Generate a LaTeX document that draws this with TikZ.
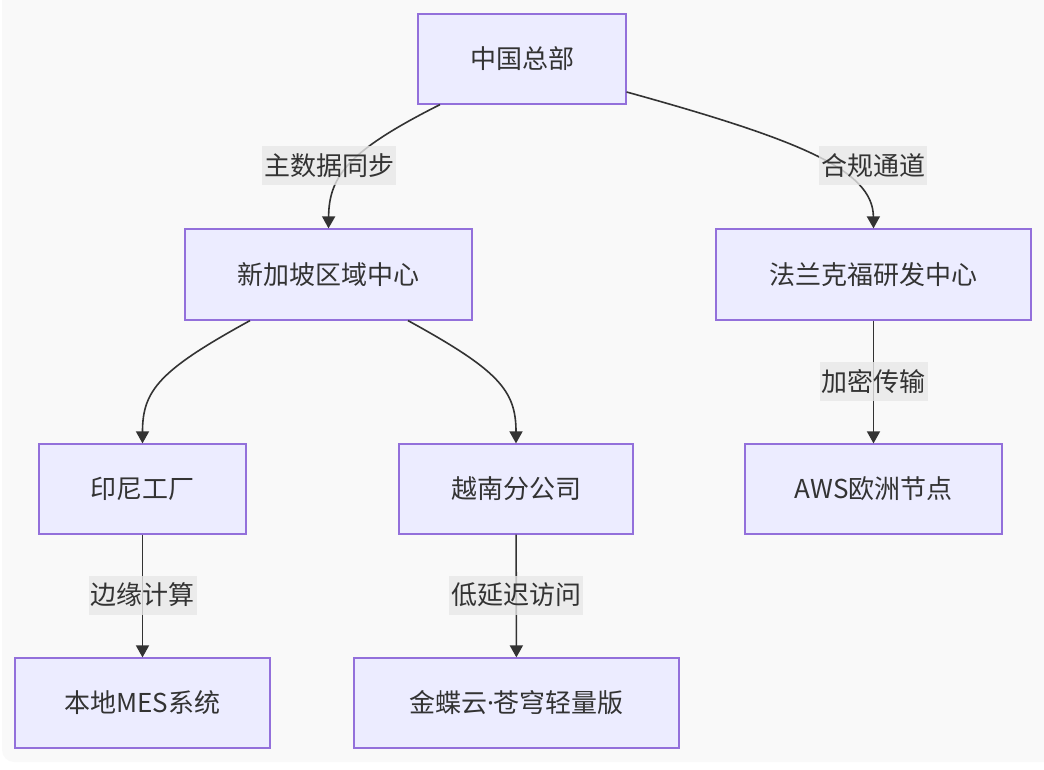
\documentclass[tikz,border=0pt]{standalone}
\usepackage{fontspec}
\setmainfont{Noto Sans CJK SC}
\newfontfamily\latinfont{Noto Sans}
\usepackage{tikz}
\usetikzlibrary{arrows.meta, calc, positioning}
\usepackage{xcolor}
\definecolor{bggray}{HTML}{F9F9F9}
\definecolor{nodefill}{HTML}{ECECFF}
\definecolor{nodeline}{HTML}{9370DB}
\definecolor{linkgray}{HTML}{333333}
\definecolor{lblgray}{HTML}{E8E8E8}

\begin{document}
\begin{tikzpicture}[x=1pt, y=-1pt,
  box/.style={draw=nodeline, fill=nodefill, line width=1.2pt, inner sep=0pt,
    minimum height=90pt, text=linkgray, font=\fontsize{26}{30}\selectfont},
  lbl/.style={fill=lblgray, fill opacity=0.8, text opacity=1, text=linkgray,
    inner xsep=2pt, inner ysep=0pt, minimum height=39pt, font=\fontsize{26}{30}\selectfont},
  link/.style={draw=linkgray, line width=1.6pt, -{Triangle[width=13pt,length=12pt]}}]
\useasboundingbox (0,0) rectangle (1044,770);
\fill[bggray, rounded corners=12pt] (2,-20) rectangle (1060,762);
\node[box, minimum width=208pt] (hq) at (522,59) {中国总部};
\node[box, minimum width=287pt, minimum height=91pt] (sg) at (328.5,274.5) {新加坡区域中心};
\node[box, minimum width=315pt, minimum height=91pt] (fra) at (873.5,274.5) {法兰克福研发中心};
\node[box, minimum width=207pt] (idn) at (142.5,489) {印尼工厂};
\node[box, minimum width=234pt] (vn) at (516,489) {越南分公司};
\node[box, minimum width=257pt] (aws) at (873.5,489) {AWS欧洲节点};
\node[box, minimum width=255pt] (mes) at (142.5,703) {本地MES系统};
\node[box, minimum width=325pt] (kd) at (516.5,703) {金蝶云{\latinfont ·}苍穹轻量版};
\draw[link] ([xshift=-82pt]hq.south) .. controls (350,150) and (329,175) .. (sg.north);
\draw[link] ([yshift=-33pt]hq.east) .. controls (800,140) and (873,170) .. (fra.north);
\draw[link] ([xshift=-78.5pt]sg.south) .. controls (160,370) and (142.5,390) .. (idn.north);
\draw[link] ([xshift=79.5pt]sg.south) .. controls (498,370) and (516,390) .. (vn.north);
\draw[link] (fra) -- (aws);
\draw[link] (idn) -- (mes);
\draw[link] (vn) -- (kd);
\node[lbl] (l1) at (329,166) {主数据同步};
\node[lbl] (l2) at (873,166) {合规通道};
\node[lbl] (l3) at (873.5,381.5) {加密传输};
\node[lbl] (l4) at (142.5,595) {边缘计算};
\node[lbl] (l5) at (516,595) {低延迟访问};
\end{tikzpicture}
\end{document}
